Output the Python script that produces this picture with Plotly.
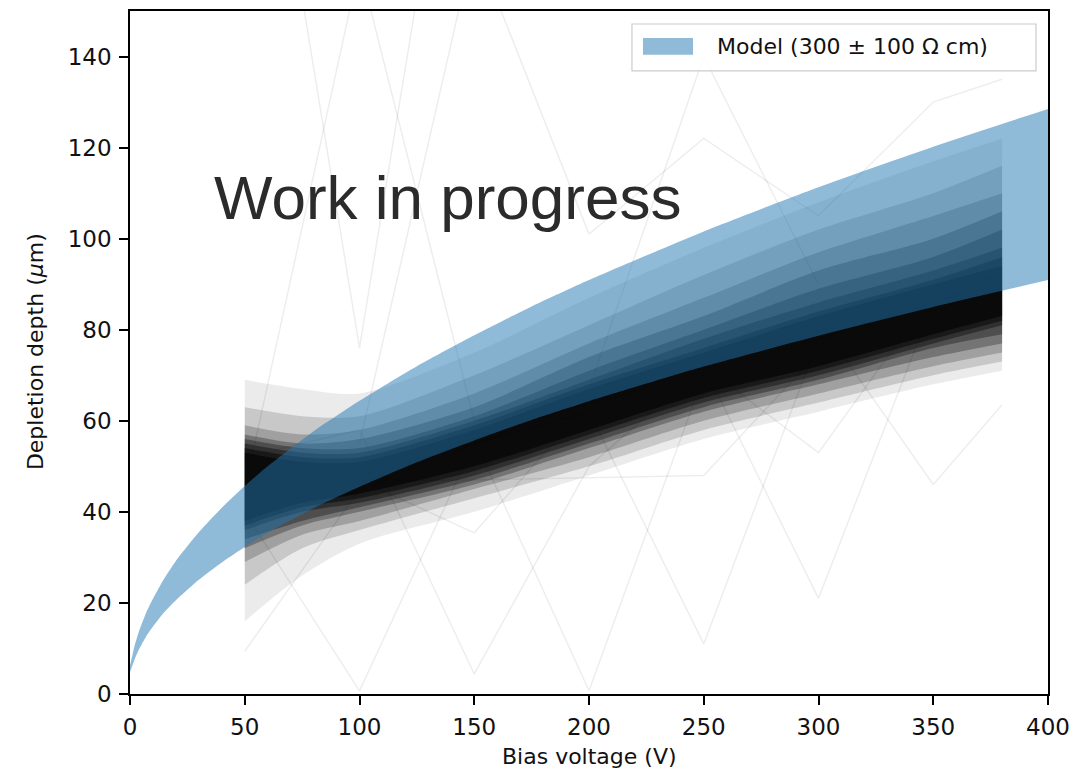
import plotly.graph_objects as go

# ---- model band: depletion depth for 300 +/- 100 Ohm cm ----
model_v = [0, 1, 2, 4, 7, 10, 15, 20, 30, 40, 50, 60, 80, 100, 125, 150, 175,
           200, 250, 300, 350, 400]
model_hi = [6.3, 8.4, 10.6, 13.9, 17.8, 20.9, 25.4, 29.2, 35.5, 40.9, 45.7, 50.0,
            57.7, 64.4, 72.0, 78.8, 85.1, 90.9, 101.6, 111.3, 120.2, 128.5]
model_lo = [4.8, 6.2, 7.6, 9.9, 12.6, 14.8, 18.0, 20.6, 25.1, 28.9, 32.3, 35.4,
            40.8, 45.5, 50.9, 55.7, 60.2, 64.3, 71.9, 78.7, 85.0, 90.9]

# ---- measured curves: density envelopes, outermost first ----
meas_v = [50, 75, 100, 150, 200, 250, 300, 350, 380]
env_lo = [
    [16, 26, 33, 40, 48, 56, 62, 68, 71],
    [24, 32, 36, 43, 50, 58, 64, 70, 73],
    [29, 35, 38, 45, 52, 60, 66, 72, 75],
    [32, 37, 40, 46, 54, 62, 68, 74, 77],
    [34, 38, 41, 47, 55, 63, 69, 76, 79],
    [36, 40, 42, 48, 56, 64, 70, 77, 81],
    [37, 41, 43, 49, 57, 65, 71, 78, 82],
    [38, 42, 44, 50, 58, 66, 72, 79, 83],
]
env_hi = [
    [69, 67, 66, 75, 87, 98, 108, 117, 122],
    [63, 61, 61, 70, 81, 92, 102, 110, 116],
    [59, 57, 58, 66, 77, 87, 97, 105, 110],
    [57, 55, 56, 63, 74, 83, 93, 100, 106],
    [56, 54, 54, 61, 71, 80, 89, 96, 102],
    [55, 53, 53, 60, 69, 78, 86, 93, 98],
    [54, 52, 52, 59, 68, 76, 84, 91, 96],
    [53, 51, 51, 58, 67, 75, 83, 90, 94],
]
env_alpha = [0.08, 0.15, 0.20, 0.27, 0.32, 0.38, 0.48, 0.58]

# ---- individual outlier curves ----
out_v = [
    [50, 100, 150],
    [50, 100, 150, 200, 250, 300, 350, 380],
    [50, 100, 150, 200, 250, 300, 350, 380],
    [100, 150, 200, 250, 300, 350, 380],
    [150, 200, 250, 300, 350, 380],
    [200, 250, 300, 350, 380],
    [50, 100, 150, 200],
    [50, 100, 150, 200],
    [100, 150, 200, 250],
    [250, 300, 350],
    [100, 150, 200, 250, 300, 350, 380],
    [50, 100, 150, 200, 250, 300],
    [100, 150, 200, 250, 300],
]
out_d = [
    [230, 76, 230],
    [52, 58, 4.4, 50, 72, 80, 88, 92],
    [46, 50, 56, 0.7, 70, 78, 86, 91],
    [48, 55, 62, 11, 78, 86, 90],
    [56, 64, 72, 21, 86, 92],
    [63, 72, 82, 46, 63.5],
    [9.4, 45, 55, 62],
    [40, 0.7, 55, 64],
    [47, 35.4, 64, 70],
    [72, 53, 88],
    [55, 165, 101, 122, 105, 130, 135],
    [45, 160, 60, 67, 140, 90],
    [47, 47, 47.5, 48, 75],
]

x_ticks = [0, 50, 100, 150, 200, 250, 300, 350, 400]
y_ticks = [0, 20, 40, 60, 80, 100, 120, 140]

legend_label = "Model (300 ± 100 Ω cm)"
watermark = "Work in progress"

fig = go.Figure()

# faint outliers underneath everything
for xv, yv in zip(out_v, out_d):
    fig.add_trace(go.Scatter(x=xv, y=yv, mode="lines",
                             line=dict(color="rgba(0,0,0,0.07)", width=1.5),
                             showlegend=False, hoverinfo="skip"))

# nested density envelopes of the measured curves
for lo, hi, a in zip(env_lo, env_hi, env_alpha):
    fig.add_trace(go.Scatter(x=meas_v, y=lo, mode="lines",
                             line=dict(width=0, shape="spline", smoothing=0.8),
                             showlegend=False, hoverinfo="skip"))
    fig.add_trace(go.Scatter(x=meas_v, y=hi, mode="lines", fill="tonexty",
                             fillcolor=f"rgba(0,0,0,{a})",
                             line=dict(width=0, shape="spline", smoothing=0.8),
                             showlegend=False, hoverinfo="skip"))

# model band on top, semi-transparent
fig.add_trace(go.Scatter(x=model_v, y=model_lo, mode="lines",
                         line=dict(width=0, shape="spline", smoothing=0.6),
                         showlegend=False, hoverinfo="skip"))
fig.add_trace(go.Scatter(x=model_v, y=model_hi, mode="lines", fill="tonexty",
                         fillcolor="rgba(31,119,180,0.5)",
                         line=dict(width=0, shape="spline", smoothing=0.6),
                         showlegend=False, hoverinfo="skip"))

tick_font = dict(family="DejaVu Sans", size=23, color="#111111")
axis_common = dict(ticks="outside", ticklen=9, tickwidth=1.5, tickcolor="black",
                   ticklabelstandoff=3, showgrid=False, zeroline=False,
                   showline=True, linecolor="black", linewidth=1.5, mirror=True,
                   tickfont=tick_font)

fig.update_layout(
    width=1090, height=771,
    margin=dict(l=130, r=42, t=9, b=77),
    paper_bgcolor="white", plot_bgcolor="white",
    showlegend=False,
    xaxis=dict(range=[0, 400], tickvals=x_ticks, **axis_common),
    yaxis=dict(range=[0, 150], tickvals=y_ticks, **axis_common),
)

# axis titles
fig.add_annotation(text="Bias voltage (V)", xref="paper", yref="paper",
                   x=0.5, y=-0.092, xanchor="center", yanchor="middle",
                   showarrow=False,
                   font=dict(family="DejaVu Sans", size=22, color="#111111"))
fig.add_annotation(text="Depletion depth (<i>μ</i>m)", xref="paper", yref="paper",
                   x=-0.1035, y=0.502, xanchor="center", yanchor="middle",
                   textangle=-90, showarrow=False,
                   font=dict(family="DejaVu Sans", size=22, color="#111111"))

# watermark text
fig.add_annotation(text=watermark, xref="paper", yref="paper",
                   x=0.0893, y=0.727, xanchor="left", yanchor="middle",
                   showarrow=False,
                   font=dict(family="Liberation Sans", size=62, color="#2b2b2b"))

# legend frame, patch and label
fig.add_shape(type="rect", xref="paper", yref="paper",
              x0=0.5468, x1=0.9869, y0=0.9124, y1=0.981,
              fillcolor="rgba(255,255,255,0.8)",
              line=dict(color="#cccccc", width=1.2), layer="above")
fig.add_shape(type="rect", xref="paper", yref="paper",
              x0=0.5588, x1=0.6133, y0=0.9358, y1=0.9606,
              fillcolor="rgba(31,119,180,0.5)", line=dict(width=0),
              layer="above")
fig.add_annotation(text=legend_label, xref="paper", yref="paper",
                   x=0.6373, y=0.9482, xanchor="left", yanchor="middle",
                   showarrow=False,
                   font=dict(family="DejaVu Sans", size=22, color="#111111"))

fig.write_html("out.html")
